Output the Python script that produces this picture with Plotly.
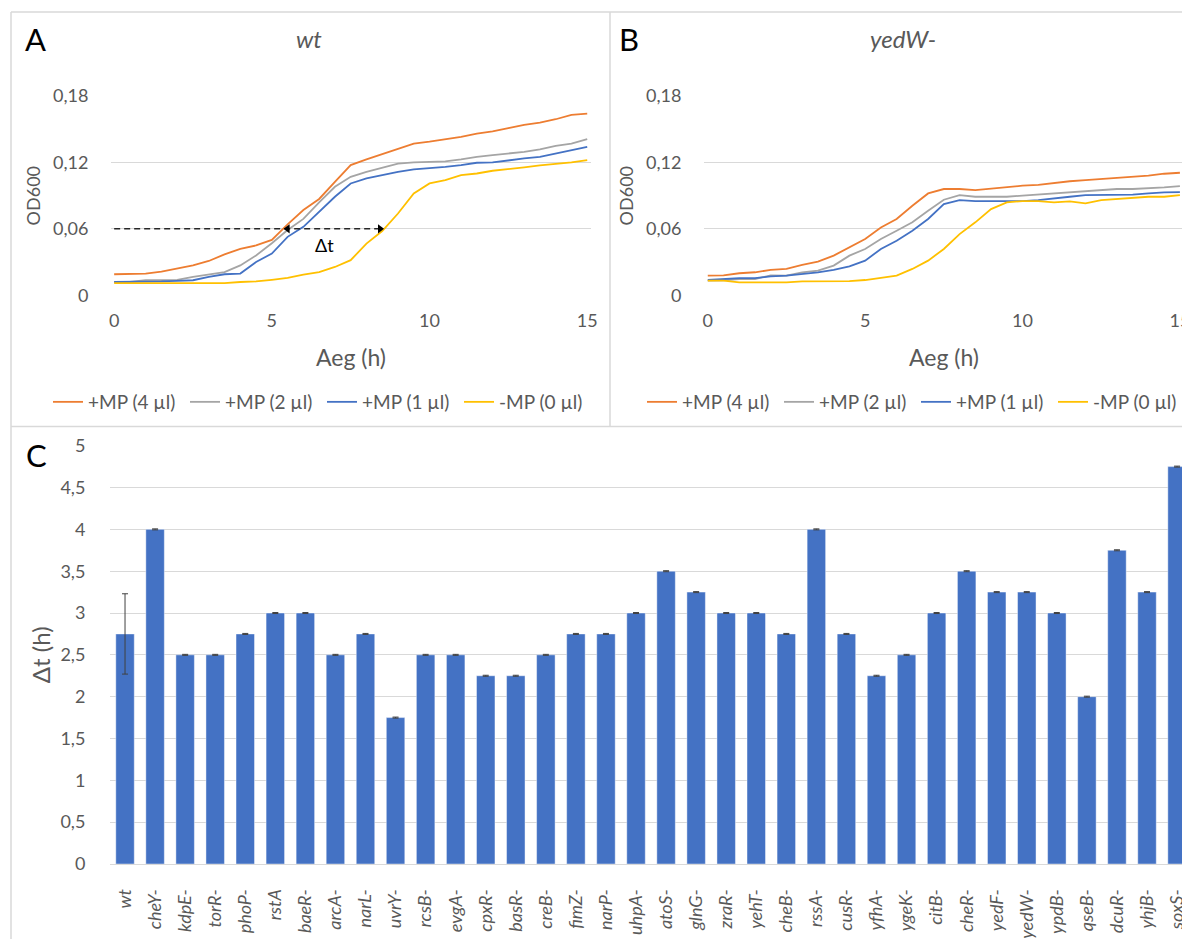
import plotly.graph_objects as go

# ---------------- data ----------------
TIME = [0, 0.5, 1, 1.5, 2, 2.5, 3, 3.5, 4, 4.5, 5, 5.5, 6, 6.5, 7, 7.5,
        8, 8.5, 9, 9.5, 10, 10.5, 11, 11.5, 12, 12.5, 13, 13.5, 14, 14.5, 15]

SERIES_NAMES = ["+MP (4 µl)", "+MP (2 µl)", "+MP (1 µl)", "-MP (0 µl)"]
SERIES_COLORS = ["#ED7D31", "#A5A5A5", "#4472C4", "#FFC000"]

# panel A (wt)
WT_MP4 = [0.019, 0.019, 0.0196, 0.0214, 0.024, 0.027, 0.031, 0.037, 0.042, 0.045, 0.050, 0.064,
          0.077, 0.087, 0.1025, 0.1176, 0.1227, 0.1275, 0.1326, 0.137, 0.1387, 0.141, 0.143,
          0.146, 0.148, 0.151, 0.154, 0.156, 0.159, 0.163, 0.164]
WT_MP2 = [0.012, 0.012, 0.0136, 0.0136, 0.014, 0.0166, 0.019, 0.021, 0.027, 0.036, 0.047, 0.059,
          0.069, 0.084, 0.098, 0.107, 0.1115, 0.115, 0.119, 0.120, 0.1206, 0.121, 0.1227,
          0.125, 0.1266, 0.128, 0.1296, 0.1317, 0.135, 0.137, 0.141]
WT_MP1 = [0.012, 0.012, 0.012, 0.0125, 0.013, 0.0136, 0.0166, 0.019, 0.0196, 0.030, 0.0377, 0.0528,
          0.0618, 0.0754, 0.089, 0.101, 0.1055, 0.1085, 0.1115, 0.1137, 0.1146, 0.116, 0.1176,
          0.1197, 0.120, 0.122, 0.1236, 0.125, 0.128, 0.131, 0.134]
WT_MP0 = [0.011, 0.011, 0.011, 0.011, 0.011, 0.011, 0.011, 0.011, 0.012, 0.0125, 0.014, 0.0157,
          0.0187, 0.021, 0.0256, 0.0317, 0.0467, 0.058, 0.0739, 0.092, 0.101, 0.104, 0.1085,
          0.110, 0.1125, 0.1137, 0.1155, 0.1173, 0.1185, 0.120, 0.122]

# panel B (yedW-)
YW_MP4 = [0.0177, 0.018, 0.0199, 0.0208, 0.0229, 0.0238, 0.0274, 0.0304, 0.0358, 0.0433, 0.0508,
          0.0613, 0.0689, 0.0809, 0.092, 0.096, 0.096, 0.095, 0.0965, 0.0974, 0.099, 0.0998,
          0.1017, 0.103, 0.104, 0.105, 0.1059, 0.107, 0.108, 0.1098, 0.1107]
YW_MP2 = [0.0132, 0.0135, 0.0147, 0.0147, 0.018, 0.0177, 0.0208, 0.0223, 0.0268, 0.0358, 0.0418,
          0.0508, 0.0583, 0.0659, 0.0764, 0.0863, 0.0905, 0.089, 0.089, 0.089, 0.090, 0.091,
          0.092, 0.093, 0.0944, 0.095, 0.096, 0.096, 0.0965, 0.0975, 0.0986]
YW_MP1 = [0.0138, 0.0145, 0.0156, 0.0156, 0.0171, 0.0177, 0.0192, 0.0208, 0.0229, 0.0262, 0.0313,
          0.0418, 0.0493, 0.0583, 0.0689, 0.0824, 0.086, 0.0851, 0.0851, 0.0851, 0.0851, 0.086,
          0.0878, 0.089, 0.0905, 0.0905, 0.0905, 0.091, 0.092, 0.093, 0.0932]
YW_MP0 = [0.0132, 0.0132, 0.0117, 0.0117, 0.0117, 0.0117, 0.0126, 0.0126, 0.0126, 0.0128, 0.0138,
          0.0156, 0.0177, 0.0238, 0.0313, 0.0418, 0.0553, 0.0659, 0.0779, 0.0839, 0.0851, 0.0851,
          0.0839, 0.0848, 0.083, 0.086, 0.0869, 0.0884, 0.089, 0.089, 0.0905]

# Δt annotation in panel A
DT_LEVEL = 0.06
DT_START = 5.38
DT_END = 8.55

OD_TICKS = [0, 0.06, 0.12, 0.18]
OD_TICK_TEXT = ["0", "0,06", "0,12", "0,18"]
T_TICKS = [0, 5, 10, 15]

# panel C
STRAINS = ["wt", "cheY-", "kdpE-", "torR-", "phoP-", "rstA", "baeR-", "arcA-", "narL-", "uvrY-",
           "rcsB-", "evgA-", "cpxR-", "basR-", "creB-", "fimZ-", "narP-", "uhpA-", "atoS-",
           "glnG-", "zraR-", "yehT-", "cheB-", "rssA-", "cusR-", "yfhA-", "ygeK-", "citB-",
           "cheR-", "yedF-", "yedW-", "ypdB-", "qseB-", "dcuR-", "yhjB-", "soxS-"]
DELTA_T = [2.75, 4.0, 2.5, 2.5, 2.75, 3.0, 3.0, 2.5, 2.75, 1.75,
           2.5, 2.5, 2.25, 2.25, 2.5, 2.75, 2.75, 3.0, 3.5,
           3.25, 3.0, 3.0, 2.75, 4.0, 2.75, 2.25, 2.5, 3.0,
           3.5, 3.25, 3.25, 3.0, 2.0, 3.75, 3.25, 4.75]
DELTA_T_ERR = [0.48] + [0.006] * 35
DT_TICKS = [0, 0.5, 1, 1.5, 2, 2.5, 3, 3.5, 4, 4.5, 5]
DT_TICK_TEXT = ["0", "0,5", "1", "1,5", "2", "2,5", "3", "3,5", "4", "4,5", "5"]

# ---------------- figure ----------------
OFF = 8                      # page body margin of the written html
W, H = 1190 - OFF, 939 - OFF
FONT = "Lato, 'Noto Sans', sans-serif"
TXT = "#595959"
GRID = "#d9d9d9"


def px_x(p):
    """window pixel -> paper x"""
    return (p - OFF) / W


def px_y(p):
    """window pixel -> paper y"""
    return 1 - (p - OFF) / H


fig = go.Figure()

wt_series = [WT_MP4, WT_MP2, WT_MP1, WT_MP0]
yw_series = [YW_MP4, YW_MP2, YW_MP1, YW_MP0]

for name, col, ys in zip(SERIES_NAMES, SERIES_COLORS, wt_series):
    fig.add_trace(go.Scatter(x=TIME, y=ys, mode="lines", name=name,
                             line=dict(color=col, width=1.8),
                             xaxis="x", yaxis="y", legend="legend"))

# dashed Δt line with arrowheads
fig.add_trace(go.Scatter(x=[0, DT_END], y=[DT_LEVEL, DT_LEVEL], mode="lines",
                         line=dict(color="#262626", width=1.5, dash="6px,4px"),
                         showlegend=False, hoverinfo="skip", xaxis="x", yaxis="y"))
fig.add_trace(go.Scatter(x=[DT_START + 0.12, DT_END - 0.12], y=[DT_LEVEL, DT_LEVEL], mode="markers",
                         marker=dict(symbol=["triangle-left", "triangle-right"], size=8,
                                     color="#000000"),
                         showlegend=False, hoverinfo="skip", xaxis="x", yaxis="y"))

for name, col, ys in zip(SERIES_NAMES, SERIES_COLORS, yw_series):
    fig.add_trace(go.Scatter(x=TIME, y=ys, mode="lines", name=name,
                             line=dict(color=col, width=1.8),
                             xaxis="x2", yaxis="y2", legend="legend2"))

fig.add_trace(go.Bar(x=STRAINS, y=DELTA_T, marker=dict(color="#4472C4",
                                                       line=dict(color="rgba(255,255,255,0.55)", width=0.8)),
                     error_y=dict(type="data", array=DELTA_T_ERR, color="#404040",
                                  thickness=1, width=3),
                     showlegend=False, xaxis="x3", yaxis="y3"))

tickfont = dict(family=FONT, size=18, color=TXT)

xa_common = dict(tickvals=T_TICKS, showgrid=False, zeroline=False,
                 showline=False, ticks="outside", ticklen=9, tickcolor="rgba(0,0,0,0)",
                 tickfont=tickfont, automargin=False, ticklabeloverflow="allow")
ya_common = dict(range=[0, 0.18], tickvals=OD_TICKS, ticktext=OD_TICK_TEXT, showgrid=True,
                 gridcolor=GRID, gridwidth=1, zeroline=False, showline=False,
                 ticks="outside", ticklen=18, tickcolor="rgba(0,0,0,0)", tickfont=tickfont,
                 automargin=False)

legend_common = dict(orientation="h", yanchor="middle", y=px_y(402), xanchor="left",
                     entrywidth=92, entrywidthmode="pixels", bgcolor="rgba(0,0,0,0)",
                     font=dict(family=FONT, size=19, color=TXT), itemclick=False,
                     tracegroupgap=0)

fig.update_layout(
    template="none",
    width=W, height=H,
    margin=dict(l=0, r=0, t=0, b=0, autoexpand=False),
    paper_bgcolor="white", plot_bgcolor="white",
    font=dict(family=FONT, color=TXT),
    bargap=0.385,
    xaxis=dict(domain=[px_x(111), px_x(591)], anchor="y", range=[-0.1, 15.12],
               title=dict(text="Aeg (h)", font=dict(family=FONT, size=23, color=TXT), standoff=19),
               **xa_common),
    yaxis=dict(domain=[px_y(295.3), px_y(96)], anchor="x",
               title=dict(text="OD600", font=dict(family=FONT, size=18, color=TXT), standoff=7),
               **ya_common),
    xaxis2=dict(domain=[px_x(704), px_x(1184)], anchor="y2", range=[-0.12, 15.13],
                title=dict(text="Aeg (h)", font=dict(family=FONT, size=23, color=TXT), standoff=19),
                **xa_common),
    yaxis2=dict(domain=[px_y(295.3), px_y(96)], anchor="x2",
                title=dict(text="OD600", font=dict(family=FONT, size=18, color=TXT), standoff=7),
                **ya_common),
    xaxis3=dict(domain=[px_x(110), 1.0], anchor="y3", range=[-0.5, 35.43],
                type="category", tickangle=-90, showgrid=False, zeroline=False,
                showline=True, linecolor=GRID, linewidth=1, automargin=False,
                ticks="outside", ticklen=17, tickcolor="rgba(0,0,0,0)",
                ticklabeloverflow="allow",
                tickfont=dict(family=FONT, size=18, color=TXT, style="italic")),
    yaxis3=dict(domain=[px_y(864), px_y(445.7)], anchor="x3", range=[0, 5],
                tickvals=DT_TICKS, ticktext=DT_TICK_TEXT, showgrid=True, gridcolor=GRID,
                zeroline=False, showline=False, ticks="outside", ticklen=20, automargin=False,
                tickcolor="rgba(0,0,0,0)", tickfont=tickfont,
                title=dict(text="Δt (h)", font=dict(family=FONT, size=24, color=TXT), standoff=3)),
    legend=dict(x=px_x(48), **legend_common),
    legend2=dict(x=px_x(642), **legend_common),
)

# titles, panel letters, Δt label
ann = [
    dict(text="<i>wt</i>", x=px_x(309), y=px_y(38), font=dict(size=24, color=TXT)),
    dict(text="<i>yedW-</i>", x=px_x(903), y=px_y(38), font=dict(size=24, color=TXT)),
    dict(text="A", x=px_x(35), y=px_y(39), font=dict(size=31, color="black")),
    dict(text="B", x=px_x(629), y=px_y(39), font=dict(size=31, color="black")),
    dict(text="C", x=px_x(36), y=px_y(455), font=dict(size=31, color="black")),
]
for a in ann:
    fig.add_annotation(xref="paper", yref="paper", xanchor="center", yanchor="middle",
                       showarrow=False, text=a["text"], x=a["x"], y=a["y"],
                       font=dict(family=FONT, **a["font"]))
fig.add_annotation(xref="x", yref="y", x=(DT_START + DT_END) / 2 - 0.3, y=DT_LEVEL - 0.015,
                   text="Δt", showarrow=False, font=dict(family=FONT, size=18, color="black"))

# panel frames (window pixels)
for (x0, y0, x1, y1) in [(11, 12, 1190, 12), (11, 426.5, 1190, 426.5),
                         (11, 12, 11, 939), (610, 12, 610, 426.5)]:
    fig.add_shape(type="line", xref="paper", yref="paper",
                  x0=px_x(x0), y0=px_y(y0), x1=px_x(x1), y1=px_y(y1),
                  line=dict(color="#d9d9d9", width=1.5))

fig.write_html("out.html")
